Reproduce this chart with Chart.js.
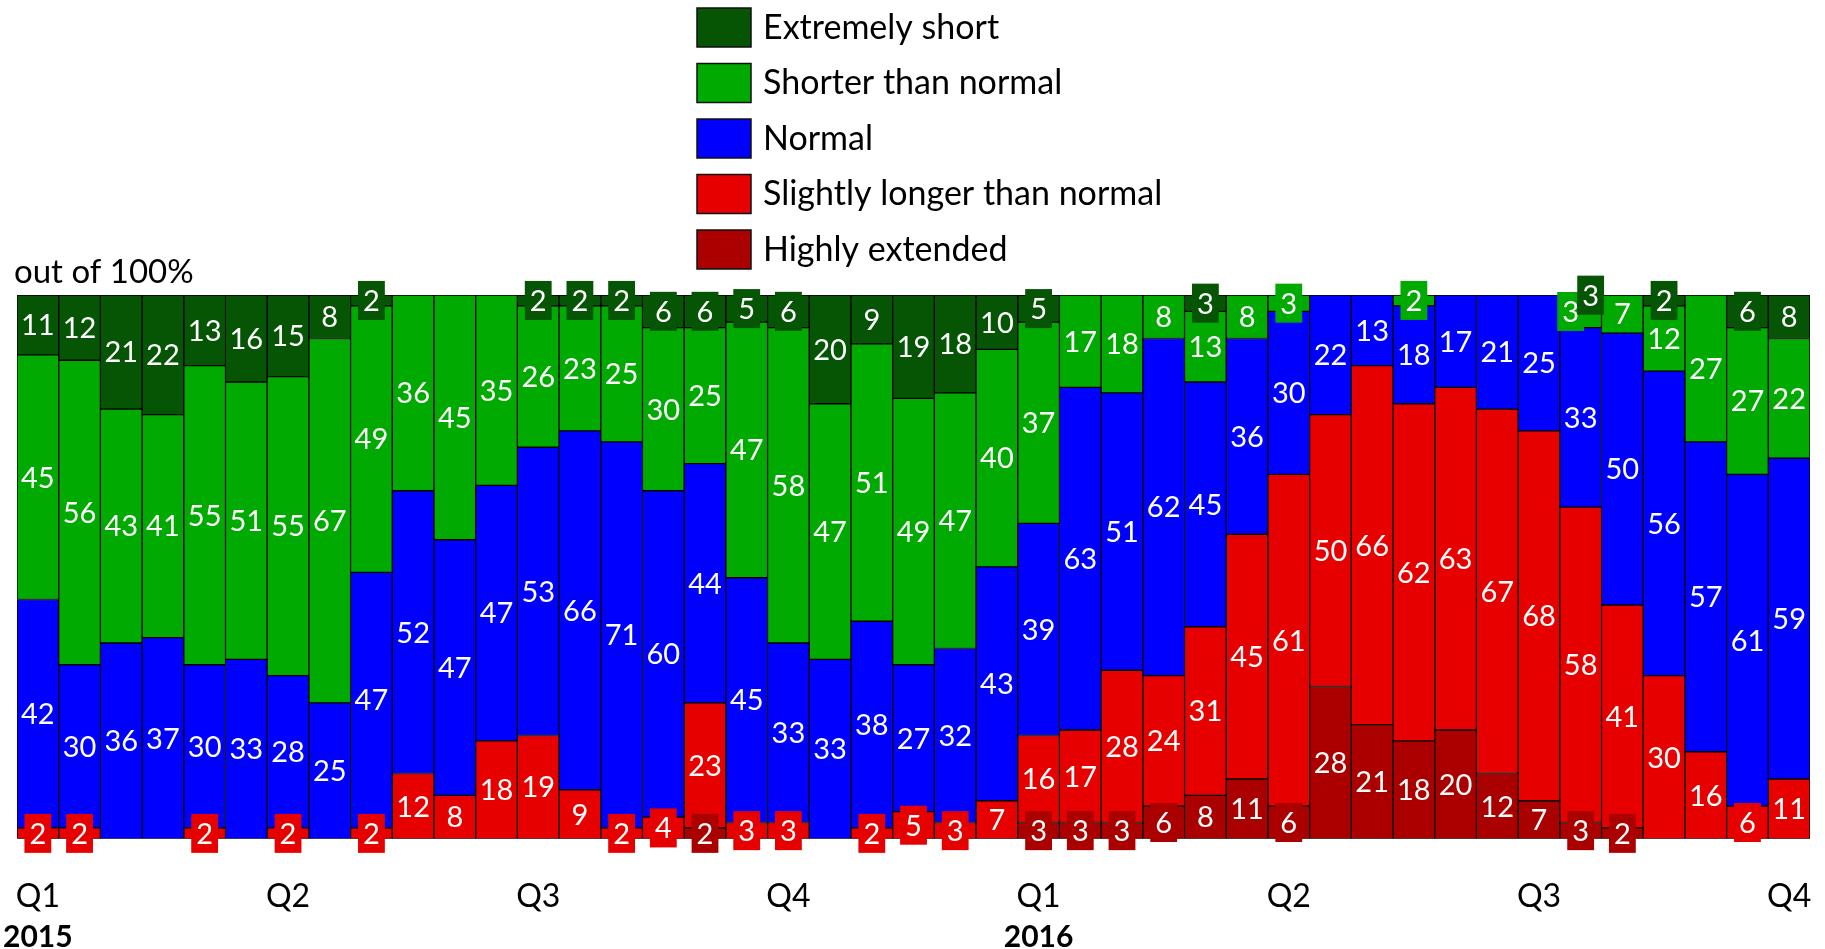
<!DOCTYPE html>
<html>
<head>
<meta charset="utf-8">
<title>Duration distribution 2015-2016</title>
<script src="https://cdn.jsdelivr.net/npm/chart.js@4.4.0/dist/chart.umd.min.js"></script>
<style>
  html, body { margin: 0; padding: 0; background: #fff; }
  #wrap { width: 1825px; height: 949px; }
</style>
</head>
<body>
<div id="wrap"><canvas id="chart" width="1825" height="949"></canvas></div>
<script>
// Series, top of the stack first (same order as the legend)
const seriesNames = ['Extremely short', 'Shorter than normal', 'Normal', 'Slightly longer than normal', 'Highly extended'];
const seriesColors = ['#055505', '#00aa00', '#0000ff', '#e60000', '#aa0000'];

// 43 two-week periods, quarter ticks every 6th period
const periods = [
  '2015-01', '2015-02', '2015-03', '2015-04', '2015-05', '2015-06',
  '2015-07', '2015-08', '2015-09', '2015-10', '2015-11', '2015-12',
  '2015-13', '2015-14', '2015-15', '2015-16', '2015-17', '2015-18',
  '2015-19', '2015-20', '2015-21', '2015-22', '2015-23', '2015-24',
  '2016-01', '2016-02', '2016-03', '2016-04', '2016-05', '2016-06',
  '2016-07', '2016-08', '2016-09', '2016-10', '2016-11', '2016-12',
  '2016-13', '2016-14', '2016-15', '2016-16', '2016-17', '2016-18',
  '2016-19'
];
const quarterTicks = [
  'Q1', '', '', '', '', '', 'Q2', '', '', '', '', '', 'Q3', '', '', '', '', '', 'Q4', '', '', '', '', '',
  'Q1', '', '', '', '', '', 'Q2', '', '', '', '', '', 'Q3', '', '', '', '', '', 'Q4'
];
const yearTicks = [
  '2015', '', '', '', '', '', '', '', '', '', '', '', '', '', '', '', '', '', '', '', '', '', '', '',
  '2016', '', '', '', '', '', '', '', '', '', '', '', '', '', '', '', '', '', ''
];

// values in % per period
const extremelyShort    = [11, 12, 21, 22, 13, 16, 15,  8,  2,  0,  0,  0,  2,  2,  2,  6,  6,  5,  6, 20,  9, 19, 18, 10,  5,  0,  0,  0,  3,  0,  0,  0,  0,  0,  0,  0,  0,  3,  0,  2,  0,  6,  8];
const shorterThanNormal = [45, 56, 43, 41, 55, 51, 55, 67, 49, 36, 45, 35, 26, 23, 25, 30, 25, 47, 58, 47, 51, 49, 47, 40, 37, 17, 18,  8, 13,  8,  3,  0,  0,  2,  0,  0,  0,  3,  7, 12, 27, 27, 22];
const normal            = [42, 30, 36, 37, 30, 33, 28, 25, 47, 52, 47, 47, 53, 66, 71, 60, 44, 45, 33, 33, 38, 27, 32, 43, 39, 63, 51, 62, 45, 36, 30, 22, 13, 18, 17, 21, 25, 33, 50, 56, 57, 61, 59];
const slightlyLonger    = [ 2,  2,  0,  0,  2,  0,  2,  0,  2, 12,  8, 18, 19,  9,  2,  4, 23,  3,  3,  0,  2,  5,  3,  7, 16, 17, 28, 24, 31, 45, 61, 50, 66, 62, 63, 67, 68, 58, 41, 30, 16,  6, 11];
const highlyExtended    = [ 0,  0,  0,  0,  0,  0,  0,  0,  0,  0,  0,  0,  0,  0,  0,  0,  2,  0,  0,  0,  0,  0,  0,  0,  3,  3,  3,  6,  8, 11,  6, 28, 21, 18, 20, 12,  7,  3,  2,  0,  0,  0,  0];

const seriesValues = [extremelyShort, shorterThanNormal, normal, slightlyLonger, highlyExtended];

const FONT = 'Lato, "Open Sans", sans-serif';

// Chart.js stacks the first dataset at the bottom, so build them reversed
const datasets = [];
for (let s = seriesNames.length - 1; s >= 0; s--) {
    datasets.push({
        label: seriesNames[s],
        data: seriesValues[s].map(v => v === 0 ? null : v),
        backgroundColor: seriesColors[s],
        borderColor: '#000',
        borderWidth: 1,
        borderSkipped: false,
        categoryPercentage: 1,
        barPercentage: 1
    });
}

// White value labels; small segments get a filled box like the original
const segmentLabels = {
    id: 'segmentLabels',
    afterDatasetsDraw(chart) {
        const ctx = chart.ctx;
        ctx.save();
        ctx.font = '29px ' + FONT;
        ctx.textAlign = 'center';
        ctx.textBaseline = 'middle';
        const boxH = 39;
        for (let i = 0; i < chart.data.labels.length; i++) {
            const items = [];
            chart.data.datasets.forEach((ds, di) => {
                const v = ds.data[i];
                if (!v) return;
                const bar = chart.getDatasetMeta(di).data[i];
                items.push({
                    v: v,
                    x: bar.x,
                    y: (bar.y + bar.base) / 2,
                    color: ds.backgroundColor,
                    boxed: v <= 6
                });
            });
            // push two neighbouring small labels apart
            for (let k = 1; k < items.length; k++) {
                const a = items[k - 1], b = items[k];
                if (a.boxed && b.boxed && Math.abs(a.y - b.y) < boxH) {
                    a.x -= 10;
                    b.x += 10;
                    a.y -= 8;
                    b.y -= 8;
                }
            }
            items.forEach(it => {
                const txt = String(it.v);
                if (it.boxed) {
                    const w = ctx.measureText(txt).width + 10;
                    ctx.fillStyle = it.color;
                    ctx.fillRect(it.x - w / 2, it.y - boxH / 2, w, boxH);
                }
                ctx.fillStyle = '#fff';
                ctx.fillText(txt, it.x, it.y + 1);
            });
        }
        ctx.restore();
    }
};

// Legend column, the "out of 100%" note and the year row under the quarters
const sideTexts = {
    id: 'sideTexts',
    afterDraw(chart) {
        const ctx = chart.ctx;
        ctx.save();
        ctx.textBaseline = 'middle';
        ctx.textAlign = 'left';
        ctx.font = '34px ' + FONT;
        seriesNames.forEach((name, i) => {
            const y = 8 + i * 55.5;
            ctx.fillStyle = seriesColors[i];
            ctx.fillRect(697, y, 54, 39);
            ctx.strokeStyle = '#111';
            ctx.lineWidth = 1.5;
            ctx.strokeRect(697, y, 54, 39);
            ctx.fillStyle = '#000';
            ctx.fillText(name, 763, y + 20);
        });
        ctx.font = '33px ' + FONT;
        ctx.fillText('out of 100%', 14, 272);

        const xs = chart.scales.x;
        ctx.font = 'bold 30px ' + FONT;
        ctx.textAlign = 'center';
        yearTicks.forEach((t, i) => {
            if (!t) return;
            ctx.fillText(t, xs.getPixelForValue(i), 937);
        });
        ctx.restore();
    }
};

new Chart(document.getElementById('chart'), {
    type: 'bar',
    data: {
        labels: periods,
        datasets: datasets
    },
    options: {
        responsive: false,
        animation: false,
        layout: {
            padding: { top: 295, left: 17, right: 15, bottom: 33 }
        },
        plugins: {
            legend: { display: false },
            title: { display: false },
            tooltip: { enabled: false }
        },
        scales: {
            x: {
                stacked: true,
                // tick marks are hidden; their length only pushes the labels down
                grid: { display: false, drawTicks: true, tickLength: 38 },
                border: { display: false },
                ticks: {
                    autoSkip: false,
                    maxRotation: 0,
                    padding: 2,
                    color: '#000',
                    font: { family: FONT, size: 32, lineHeight: 1.1 },
                    callback: (value, index) => quarterTicks[index]
                }
            },
            y: {
                stacked: true,
                display: false,
                min: 0,
                max: 100
            }
        }
    },
    plugins: [segmentLabels, sideTexts]
});
</script>
</body>
</html>
